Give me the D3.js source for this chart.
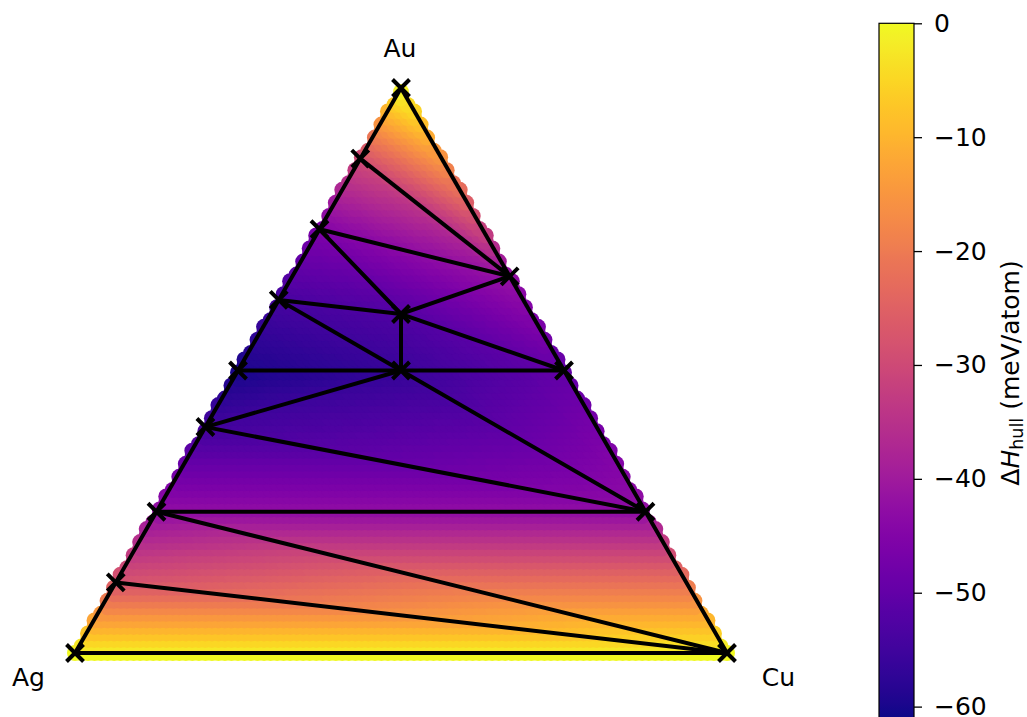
<!DOCTYPE html>
<html>
<head>
<meta charset="utf-8">
<script src="https://cdn.jsdelivr.net/npm/d3@7/dist/d3.min.js"></script>
<style>
  html, body { margin: 0; padding: 0; background: #fff; }
  svg { display: block; font-family: "DejaVu Sans", sans-serif; }
</style>
</head>
<body>
<svg id="chart" width="1027" height="717"></svg>
<script>
// Ternary corner elements (order: left, top, right)
const elements = ["Ag", "Au", "Cu"];

// Convex-hull phases: compositions and hull energies (meV/atom)
const phaseNames = ["Ag", "Au", "Cu",
  "Ag7Au", "Ag3Au", "Ag3Au2", "AgAu", "Ag3Au5", "AgAu3", "AgAu7",
  "AuCu3", "AuCu", "Au2Cu", "AgAu3Cu", "AgAu2Cu"];
const phaseAg = [1, 0, 0, 0.875, 0.75, 0.6, 0.5, 0.375, 0.25, 0.125, 0, 0, 0, 0.2, 0.25];
const phaseAu = [0, 1, 0, 0.125, 0.25, 0.4, 0.5, 0.625, 0.75, 0.875, 0.25, 0.5, 2 / 3, 0.6, 0.5];
const phaseCu = [0, 0, 1, 0, 0, 0, 0, 0, 0, 0, 0.75, 0.5, 1 / 3, 0.2, 0.25];
const phaseEnergy = [0, 0, 0, -27, -42, -54.5, -60, -54.5, -46, -30.5, -42, -50, -42, -53, -56.5];

// Hull facets (triangles, as indices into the phase arrays)
const facetA = [0, 3, 4, 4, 5, 14, 5, 6, 7, 13, 7, 8, 13, 8, 9];
const facetB = [3, 4, 10, 5, 14, 11, 6, 7, 13, 11, 8, 12, 12, 9, 1];
const facetC = [2, 2, 2, 10, 10, 10, 14, 14, 14, 14, 13, 13, 11, 12, 12];

// Colour bar
const cbarTicks = [0, -10, -20, -30, -40, -50, -60];
const energyMin = -61, energyMax = 0;

const SQ = Math.sqrt(3) / 2;
const FONT = 25;
const svg = d3.select("#chart");

const x = d3.scaleLinear().domain([0, 1]).range([75, 727]);
const y = d3.scaleLinear().domain([0, SQ]).range([653, 88]);
const color = d3.scaleSequential(d3.interpolatePlasma).domain([energyMin, energyMax]);

// composition -> cartesian
const cartX = (ag, au, cu) => cu + au / 2;
const cartY = (ag, au, cu) => au * SQ;

// hull energy at a composition, from the facet that contains it
function hullEnergy(au, cu) {
  let best = null, bestMin = -Infinity;
  for (let f = 0; f < facetA.length; f++) {
    const i = facetA[f], j = facetB[f], k = facetC[f];
    const x1 = phaseAu[i], y1 = phaseCu[i];
    const x2 = phaseAu[j], y2 = phaseCu[j];
    const x3 = phaseAu[k], y3 = phaseCu[k];
    const det = (y2 - y3) * (x1 - x3) + (x3 - x2) * (y1 - y3);
    const w1 = ((y2 - y3) * (au - x3) + (x3 - x2) * (cu - y3)) / det;
    const w2 = ((y3 - y1) * (au - x3) + (x1 - x3) * (cu - y3)) / det;
    const w3 = 1 - w1 - w2;
    const m = Math.min(w1, w2, w3);
    if (m > bestMin) {
      bestMin = m;
      best = w1 * phaseEnergy[i] + w2 * phaseEnergy[j] + w3 * phaseEnergy[k];
    }
  }
  return best;
}

// sampling grid over the composition triangle
const step = 0.01;
const grid = [];
for (let r = 0; r * step <= SQ + 1e-9; r++) {
  const Y = r * step;
  const au = Y / SQ;
  for (let c = 0; c * step <= 1 + 1e-9; c++) {
    const X = c * step;
    const cu = X - au / 2;
    const ag = 1 - au - cu;
    if (cu < -1e-9 || ag < -1e-9 || au > 1 + 1e-9) continue;
    grid.push({ X, Y, e: hullEnergy(au, cu) });
  }
}

svg.append("g").selectAll("circle")
  .data(grid)
  .join("circle")
  .attr("cx", d => x(d.X))
  .attr("cy", d => y(d.Y))
  .attr("r", 8)
  .attr("fill", d => color(d.e));

// hull tie-lines
const edges = new Map();
for (let f = 0; f < facetA.length; f++) {
  const tri = [facetA[f], facetB[f], facetC[f]];
  for (let a = 0; a < 3; a++) {
    const p = tri[a], q = tri[(a + 1) % 3];
    const key = Math.min(p, q) + "-" + Math.max(p, q);
    edges.set(key, [p, q]);
  }
}
const px = i => x(cartX(phaseAg[i], phaseAu[i], phaseCu[i]));
const py = i => y(cartY(phaseAg[i], phaseAu[i], phaseCu[i]));

svg.append("g").selectAll("line")
  .data([...edges.values()])
  .join("line")
  .attr("x1", d => px(d[0])).attr("y1", d => py(d[0]))
  .attr("x2", d => px(d[1])).attr("y2", d => py(d[1]))
  .attr("stroke", "#000")
  .attr("stroke-width", 4)
  .attr("stroke-linecap", "square");

// stable phases as x markers
const m = 8.5;
svg.append("g").selectAll("path")
  .data(d3.range(phaseNames.length))
  .join("path")
  .attr("d", i => `M${px(i) - m},${py(i) - m}L${px(i) + m},${py(i) + m}M${px(i) - m},${py(i) + m}L${px(i) + m},${py(i) - m}`)
  .attr("stroke", "#000")
  .attr("stroke-width", 4)
  .attr("fill", "none");

// corner labels
const labelPos = [[28.5, 686], [400, 57], [778.5, 686]];
svg.append("g").selectAll("text")
  .data(elements)
  .join("text")
  .attr("x", (d, i) => labelPos[i][0])
  .attr("y", (d, i) => labelPos[i][1])
  .attr("text-anchor", "middle")
  .attr("font-size", FONT)
  .attr("fill", "#000")
  .text(d => d);

// colour bar
const cbX = 879, cbW = 35;
const cy = d3.scaleLinear().domain([energyMin, energyMax]).range([718, 23.3]);
const defs = svg.append("defs");
const grad = defs.append("linearGradient")
  .attr("id", "cbar").attr("x1", 0).attr("y1", 1).attr("x2", 0).attr("y2", 0);
d3.range(0, 1.0001, 0.02).forEach(t => {
  grad.append("stop").attr("offset", t).attr("stop-color", d3.interpolatePlasma(t));
});
svg.append("rect")
  .attr("x", cbX).attr("y", cy(energyMax))
  .attr("width", cbW).attr("height", cy(energyMin) - cy(energyMax))
  .attr("fill", "url(#cbar)")
  .attr("stroke", "#000").attr("stroke-width", 1.2);

const cbAxis = d3.axisRight(cy)
  .tickValues(cbarTicks)
  .tickSize(8)
  .tickPadding(12)
  .tickFormat(d => d3.format("d")(d).replace("-", "\u2212"));
const ag = svg.append("g")
  .attr("transform", `translate(${cbX + cbW},0)`)
  .call(cbAxis);
ag.select(".domain").remove();
ag.selectAll(".tick line").attr("stroke", "#000").attr("stroke-width", 1.3);
ag.selectAll(".tick text")
  .attr("font-size", FONT)
  .attr("font-family", "DejaVu Sans")
  .attr("fill", "#000");

// colour bar title
const title = svg.append("text")
  .attr("transform", "translate(1019,373) rotate(-90)")
  .attr("text-anchor", "middle")
  .attr("font-size", FONT)
  .attr("fill", "#000");
title.append("tspan").text("\u0394");
title.append("tspan").attr("font-style", "italic").text("H");
title.append("tspan").attr("font-size", FONT * 0.7).attr("dy", 4).text("hull");
title.append("tspan").attr("dy", -4).text(" (meV/atom)");
</script>
</body>
</html>
